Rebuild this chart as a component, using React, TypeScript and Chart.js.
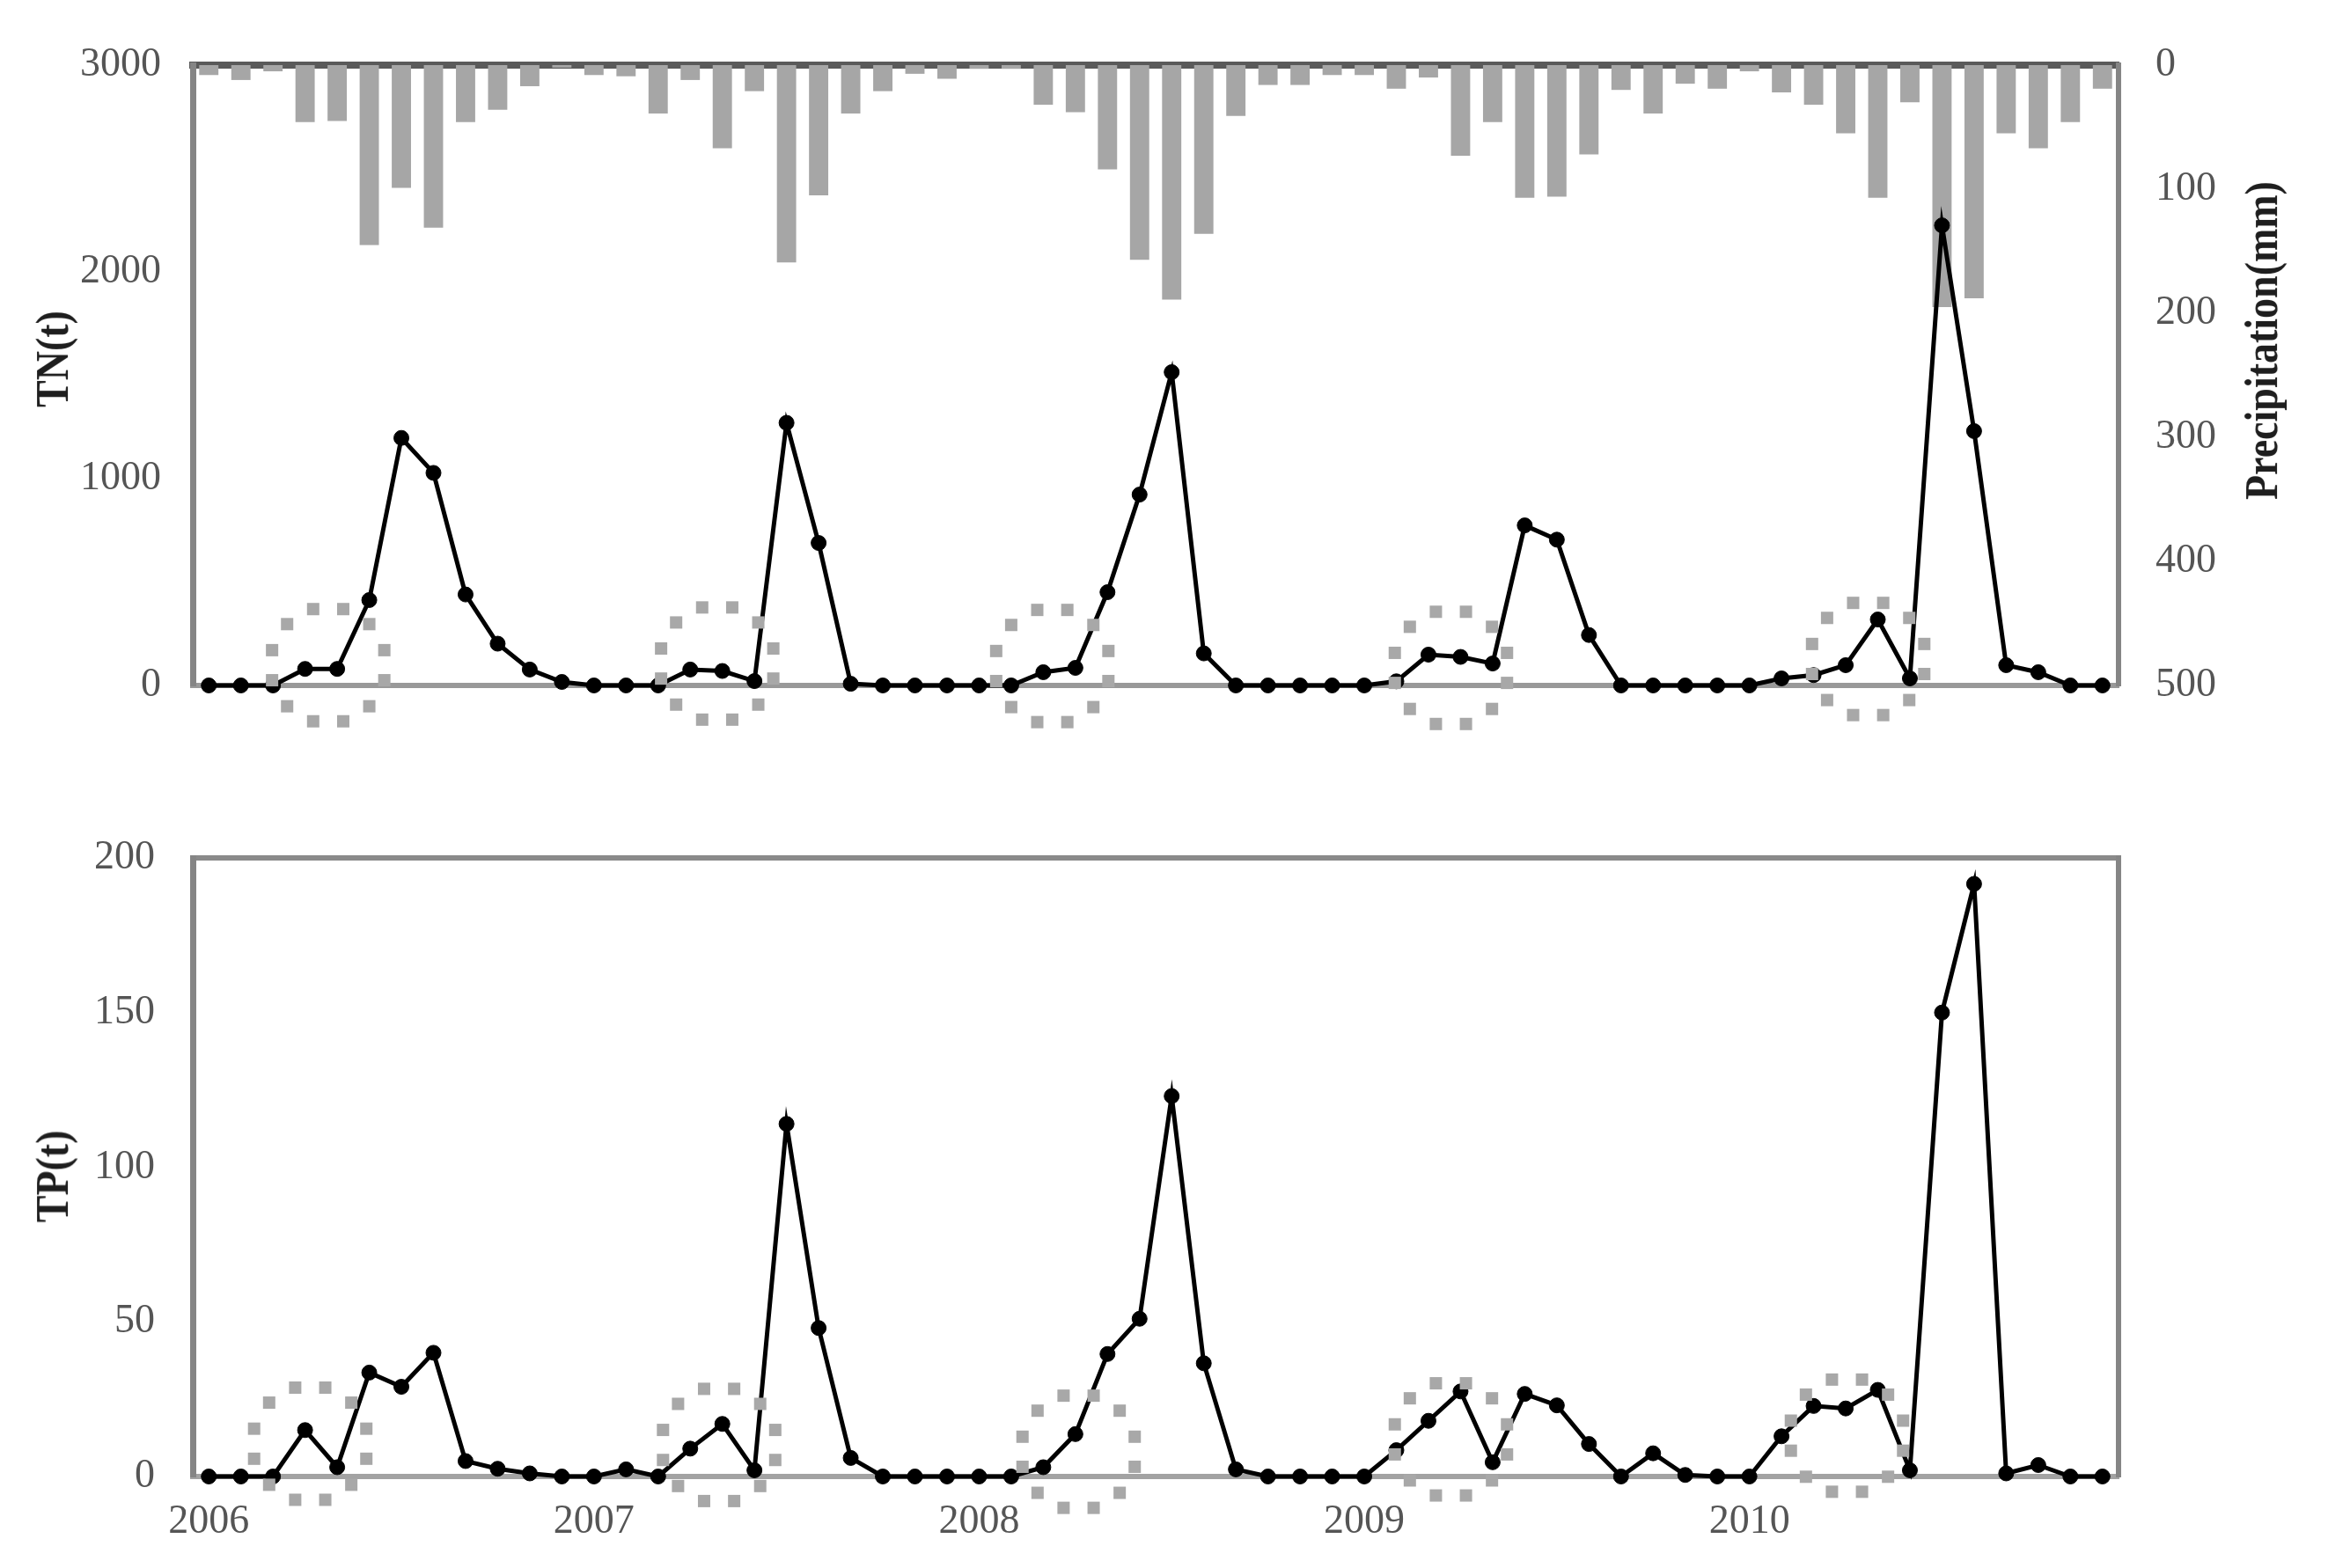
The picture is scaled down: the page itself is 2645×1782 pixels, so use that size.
import React, { useEffect, useRef } from 'react';
import { Chart, registerables } from 'chart.js';

Chart.register(...registerables);

// ---------- data ----------
const years = ['2006', '2007', '2008', '2009', '2010'];
const monthNums = ['01', '02', '03', '04', '05', '06', '07', '08', '09', '10', '11', '12'];
const months: string[] = [];
for (const y of years) for (const m of monthNums) months.push(`${y}-${m}`);

// monthly precipitation (mm), right axis (reversed)
const precipitation = [
  8, 12, 5, 46, 45, 145, 99, 131, 46, 36, 17, 2,
  8, 9, 39, 12, 67, 21, 159, 105, 39, 21, 7, 11,
  3, 3, 32, 38, 84, 157, 189, 136, 41, 16, 16, 8,
  8, 19, 10, 73, 46, 107, 106, 72, 20, 39, 15, 19,
  5, 22, 32, 55, 107, 30, 195, 188, 55, 67, 46, 19,
];

// TN load (t)
const tn = [
  0, 0, 0, 80, 80, 413, 1197, 1028, 440, 202, 77, 17,
  0, 0, 0, 77, 70, 21, 1270, 689, 8, 0, 0, 0,
  0, 0, 64, 85, 451, 923, 1515, 155, 0, 0, 0, 0,
  0, 20, 149, 138, 106, 774, 705, 244, 0, 0, 0, 0,
  0, 34, 50, 98, 319, 34, 2225, 1230, 98, 64, 0, 0,
];

// TP load (t)
const tp = [
  0, 0, 0, 15, 3, 33.6, 29, 40, 5, 2.5, 1, 0,
  0, 2.3, 0, 9, 17, 2, 114, 48, 6, 0, 0, 0,
  0, 0, 3, 13.7, 39.6, 51, 123, 36.6, 2.3, 0, 0, 0,
  0, 8.5, 18, 27.5, 4.6, 26.7, 23, 10.5, 0, 7.5, 0.5, 0,
  0, 13, 22.8, 22, 28, 2, 150, 191.6, 1, 3.7, 0, 0,
];

// highlighted (dotted circle) regions, in data coordinates (month index, value)
const tnCircleX = [3.72, 15.84, 26.28, 38.7, 51.7];
const tnCircleY = [98, 106, 94, 85, 128];
const tpCircleX = [3.16, 15.9, 27.1, 38.7, 51.04];
const tpCircleY = [10.6, 10.2, 8, 12, 13.2];

const tnTicks = [0, 1000, 2000, 3000];
const precipTicks = [0, 100, 200, 300, 400, 500];
const tpTicks = [0, 50, 100, 150, 200];

// ---------- styling ----------
const FONT = '"Liberation Serif", "Times New Roman", serif';
const W = 2645;
const TICK_COLOR = '#555555';
const AXIS_GRAY = '#858585';

const circlePlugin = {
  id: 'dottedCircles',
  afterDatasetsDraw(chart: any, _args: any, opts: any) {
    const xs: number[] = opts.xs || [];
    const ys: number[] = opts.ys || [];
    const xScale = chart.scales.x;
    const yScale = chart.scales[opts.yAxis || 'y'];
    const ctx = chart.ctx;
    const r = opts.radius || 66;
    const s = opts.size || 14;
    ctx.save();
    ctx.fillStyle = opts.color || '#a8a8a8';
    for (let i = 0; i < xs.length; i++) {
      const cx = xScale.getPixelForValue(xs[i]);
      const cy = yScale.getPixelForValue(ys[i]);
      for (let k = 0; k < 12; k++) {
        const a = (k * Math.PI * 2) / 12 + Math.PI / 12;
        ctx.fillRect(cx + r * Math.cos(a) - s / 2, cy + r * Math.sin(a) - s / 2, s, s);
      }
    }
    ctx.restore();
  },
};

const lineStyle = {
  borderColor: '#000000',
  backgroundColor: '#000000',
  borderWidth: 5,
  pointRadius: 8.5,
  pointBackgroundColor: '#000000',
  pointBorderColor: '#000000',
  pointBorderWidth: 1,
  tension: 0,
  clip: false,
};

function TopChart() {
  const ref = useRef<HTMLCanvasElement>(null);
  useEffect(() => {
    if (!ref.current) return;
    const chart = new Chart(ref.current, {
      type: 'bar',
      data: {
        labels: months,
        datasets: [
          {
            type: 'line',
            label: 'TN',
            data: tn,
            yAxisID: 'y',
            ...lineStyle,
            order: 0,
          } as any,
          {
            type: 'bar',
            label: 'Precipitation',
            data: precipitation,
            yAxisID: 'y1',
            backgroundColor: '#a6a6a6',
            borderWidth: 0,
            barPercentage: 0.6,
            categoryPercentage: 1,
            order: 1,
          } as any,
        ],
      },
      options: {
        animation: false,
        responsive: false,
        devicePixelRatio: 1,
        layout: { padding: { top: 74, bottom: 101, left: 0, right: 0 } },
        plugins: {
          legend: { display: false },
          tooltip: { enabled: false },
          dottedCircles: { xs: tnCircleX, ys: tnCircleY, yAxis: 'y' },
        } as any,
        scales: {
          x: {
            type: 'category',
            position: 'bottom',
            offset: true,
            grid: { display: false, drawTicks: false },
            ticks: { display: false },
            border: { display: true, color: '#999999', width: 6 },
            afterFit: (s: any) => { s.height = 0; },
          },
          xTop: {
            type: 'category',
            position: 'top',
            offset: true,
            grid: { display: false, drawTicks: false },
            ticks: { display: false },
            border: { display: true, color: '#5a5a5a', width: 8 },
            afterFit: (s: any) => { s.height = 0; },
          },
          y: {
            type: 'linear',
            position: 'left',
            min: 0,
            max: 3000,
            afterBuildTicks: (s: any) => { s.ticks = tnTicks.map((v) => ({ value: v })); },
            grid: { display: false, drawTicks: false },
            border: { display: true, color: AXIS_GRAY, width: 7 },
            ticks: {
              color: TICK_COLOR,
              font: { family: FONT, size: 46 },
              padding: 36,
              callback: (v: any) => String(v),
            },
            afterFit: (s: any) => { s.width = 219; },
          },
          y1: {
            type: 'linear',
            position: 'right',
            reverse: true,
            min: 0,
            max: 500,
            afterBuildTicks: (s: any) => { s.ticks = precipTicks.map((v) => ({ value: v })); },
            grid: { display: false, drawTicks: false },
            border: { display: true, color: AXIS_GRAY, width: 6 },
            ticks: {
              color: TICK_COLOR,
              font: { family: FONT, size: 46 },
              padding: 42,
              callback: (v: any) => String(v),
            },
            afterFit: (s: any) => { s.width = 238; },
          },
        },
      } as any,
      plugins: [circlePlugin],
    });
    return () => chart.destroy();
  }, []);
  return (
    <canvas
      ref={ref}
      width={W}
      height={880}
      style={{ position: 'absolute', left: 0, top: 0, width: W, height: 880 }}
    />
  );
}

function BottomChart() {
  const ref = useRef<HTMLCanvasElement>(null);
  useEffect(() => {
    if (!ref.current) return;
    const chart = new Chart(ref.current, {
      type: 'line',
      data: {
        labels: months,
        datasets: [
          {
            label: 'TP',
            data: tp,
            ...lineStyle,
          } as any,
        ],
      },
      options: {
        animation: false,
        responsive: false,
        devicePixelRatio: 1,
        layout: { padding: { top: 95, bottom: 0, left: 0, right: 238 } },
        plugins: {
          legend: { display: false },
          tooltip: { enabled: false },
          dottedCircles: { xs: tpCircleX, ys: tpCircleY, yAxis: 'y' },
        } as any,
        scales: {
          x: {
            type: 'category',
            position: 'bottom',
            offset: true,
            grid: { display: false, drawTicks: false },
            border: { display: true, color: '#a3a3a3', width: 6 },
            ticks: {
              autoSkip: false,
              maxRotation: 0,
              minRotation: 0,
              color: TICK_COLOR,
              font: { family: FONT, size: 46 },
              padding: 24,
              callback: (_v: any, i: number) => (i % 12 === 0 ? years[i / 12] : ''),
            },
            afterFit: (s: any) => { s.height = 104; },
          },
          xTop: {
            type: 'category',
            position: 'top',
            offset: true,
            grid: { display: false, drawTicks: false },
            ticks: { display: false },
            border: { display: true, color: '#8a8a8a', width: 6 },
            afterFit: (s: any) => { s.height = 0; },
          },
          y: {
            type: 'linear',
            position: 'left',
            min: 0,
            max: 200,
            afterBuildTicks: (s: any) => { s.ticks = tpTicks.map((v) => ({ value: v })); },
            grid: { display: false, drawTicks: false },
            border: { display: true, color: AXIS_GRAY, width: 7 },
            ticks: {
              color: TICK_COLOR,
              font: { family: FONT, size: 46 },
              padding: 43,
              callback: (v: any) => String(v),
            },
            afterFit: (s: any) => { s.width = 219; },
          },
          yRight: {
            type: 'linear',
            position: 'right',
            min: 0,
            max: 200,
            grid: { display: false, drawTicks: false },
            ticks: { display: false },
            border: { display: true, color: AXIS_GRAY, width: 6 },
            afterFit: (s: any) => { s.width = 0; },
          },
        },
      } as any,
      plugins: [circlePlugin],
    });
    return () => chart.destroy();
  }, []);
  return (
    <canvas
      ref={ref}
      width={W}
      height={902}
      style={{ position: 'absolute', left: 0, top: 880, width: W, height: 902 }}
    />
  );
}

function AxisTitle({ text, cx, cy }: { text: string; cx: number; cy: number }) {
  return (
    <div
      style={{
        position: 'absolute',
        left: cx,
        top: cy,
        transform: 'translate(-50%, -50%) scale(1.15, 1) rotate(-90deg)',
        whiteSpace: 'nowrap',
        fontFamily: FONT,
        fontWeight: 'bold',
        fontSize: 46,
        color: '#1e1e1e',
        lineHeight: 1,
      }}
    >
      {text}
    </div>
  );
}

export default function App() {
  return (
    <div
      style={{
        position: 'fixed',
        left: 0,
        top: 0,
        width: W,
        height: 1782,
        background: '#ffffff',
        overflow: 'hidden',
      }}
    >
      <TopChart />
      <BottomChart />
      <AxisTitle text="TN(t)" cx={60} cy={408} />
      <AxisTitle text="TP(t)" cx={60} cy={1337} />
      <AxisTitle text="Precipitation(mm)" cx={2570} cy={387} />
    </div>
  );
}
